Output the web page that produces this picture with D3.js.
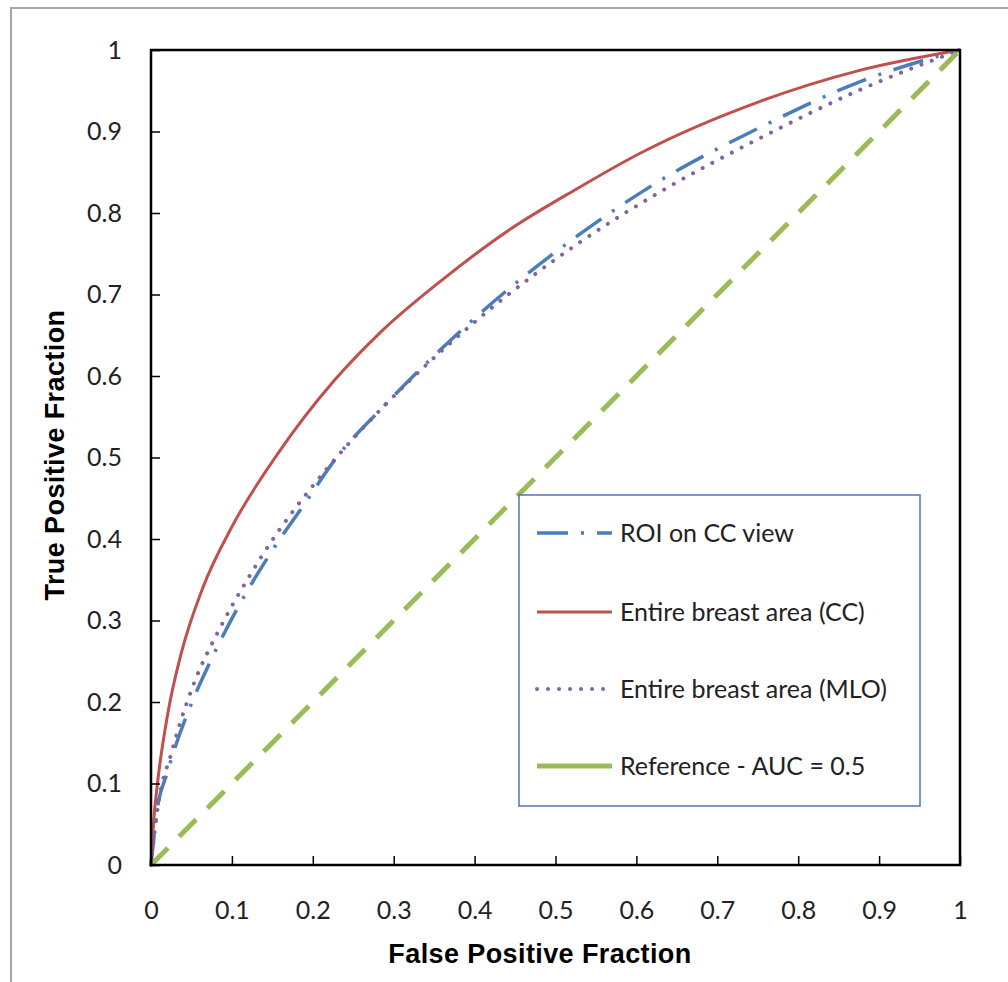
<!DOCTYPE html>
<html>
<head>
<meta charset="utf-8">
<script src="https://cdn.jsdelivr.net/npm/d3@7"></script>
<style>
  body { margin: 0; background: #fff; }
  svg { display: block; }
  .tick text { font-family: Lato, 'Open Sans', sans-serif; font-size: 25px; fill: #222; }
  .axis-title { font-family: 'Liberation Sans', Arial, sans-serif; font-weight: bold; font-size: 27px; letter-spacing: 0.4px; fill: #000; }
  .legend text { font-family: Lato, 'Open Sans', sans-serif; font-size: 25px; fill: #222; }
</style>
</head>
<body>
<svg id="chart"></svg>
<script>
// tick labels for both axes
const axisTicks = [0, 0.1, 0.2, 0.3, 0.4, 0.5, 0.6, 0.7, 0.8, 0.9, 1];

// ROC points: [false positive fraction, true positive fraction]
const roiCC = [[0, 0], [0.009, 0.076], [0.019, 0.11], [0.03, 0.145], [0.05, 0.198], [0.073, 0.249],
  [0.108, 0.317], [0.146, 0.38], [0.189, 0.442], [0.231, 0.502], [0.285, 0.56], [0.407, 0.677],
  [0.53, 0.774], [0.633, 0.842], [0.753, 0.905], [0.876, 0.961], [1, 1]];
const entireCC = [[0, 0], [0.003, 0.05], [0.008, 0.1], [0.021, 0.187], [0.038, 0.262], [0.064, 0.34],
  [0.1, 0.415], [0.157, 0.505], [0.227, 0.595], [0.283, 0.653], [0.36, 0.718], [0.444, 0.78],
  [0.527, 0.83], [0.604, 0.873], [0.753, 0.937], [0.876, 0.975], [1, 1]];
const entireMLO = [[0, 0], [0.006, 0.053], [0.012, 0.092], [0.023, 0.13], [0.034, 0.168], [0.052, 0.22],
  [0.086, 0.292], [0.119, 0.35], [0.155, 0.406], [0.195, 0.459], [0.238, 0.51], [0.284, 0.559],
  [0.407, 0.672], [0.53, 0.764], [0.633, 0.828], [0.753, 0.892], [0.876, 0.951], [1, 1]];
const reference = [[0, 0], [1, 1]];

const seriesNames = ['ROI on CC view', 'Entire breast area (CC)', 'Entire breast area (MLO)', 'Reference - AUC = 0.5'];

const width = 1008,
  height = 982;

const svg = d3.select('#chart').attr('width', width).attr('height', height);

// outer chart border (cut off at right and bottom)
svg.append('path')
  .attr('d', 'M11,' + (height + 5) + 'V8H' + (width + 5))
  .attr('fill', 'none')
  .attr('stroke', '#a6a6a6')
  .attr('stroke-width', 2);

const x = d3.scaleLinear().domain([0, 1]).range([151, 960]);
const y = d3.scaleLinear().domain([0, 1]).range([865, 50]);

const styles = [
  { color: '#4a7ebb', width: 3.5, dash: '31,13,3,13', cap: 'butt' },
  { color: '#c0504d', width: 3, dash: null, cap: 'butt' },
  { color: '#8064a2', width: 4, dash: '0.01,11', cap: 'round' },
  { color: '#9bbb59', width: 5, dash: '24,16', cap: 'butt' }
];

const line = d3.line()
  .x(d => x(d[0]))
  .y(d => y(d[1]))
  .curve(d3.curveMonotoneX);

const series = [roiCC, entireCC, entireMLO, reference];

svg.append('g')
  .attr('class', 'data')
  .selectAll('path')
  .data(series)
  .join('path')
  .attr('d', line)
  .attr('fill', 'none')
  .attr('stroke', (d, i) => styles[i].color)
  .attr('stroke-width', (d, i) => styles[i].width)
  .attr('stroke-dasharray', (d, i) => styles[i].dash)
  .attr('stroke-linecap', (d, i) => styles[i].cap);

// axes with ticks pointing inward
const xAxis = svg.append('g')
  .attr('class', 'axis')
  .attr('transform', 'translate(0,' + y(0) + ')')
  .call(d3.axisBottom(x).tickValues(axisTicks).tickFormat(d => String(d))
    .tickSizeInner(-9).tickSizeOuter(0).tickPadding(36));

const yAxis = svg.append('g')
  .attr('class', 'axis')
  .attr('transform', 'translate(' + x(0) + ',0)')
  .call(d3.axisLeft(y).tickValues(axisTicks).tickFormat(d => String(d))
    .tickSizeInner(-9).tickSizeOuter(0).tickPadding(29));

[xAxis, yAxis].forEach(g => {
  g.select('.domain').remove();
  g.selectAll('.tick line').attr('stroke', '#000').attr('stroke-width', 1.5);
  g.attr('font-family', null).attr('font-size', null);
});

// plot frame
svg.append('rect')
  .attr('x', x(0))
  .attr('y', y(1))
  .attr('width', x(1) - x(0))
  .attr('height', y(0) - y(1))
  .attr('fill', 'none')
  .attr('stroke', '#000')
  .attr('stroke-width', 2.5);

svg.append('text')
  .attr('class', 'axis-title')
  .attr('x', 540)
  .attr('y', 963)
  .attr('text-anchor', 'middle')
  .text('False Positive Fraction');

svg.append('text')
  .attr('class', 'axis-title')
  .attr('transform', 'translate(64,455) rotate(-90)')
  .attr('text-anchor', 'middle')
  .text('True Positive Fraction');

// legend
const legend = svg.append('g').attr('class', 'legend');

legend.append('rect')
  .attr('x', 519)
  .attr('y', 495)
  .attr('width', 401)
  .attr('height', 311)
  .attr('fill', '#fff')
  .attr('stroke', '#4f76b4')
  .attr('stroke-width', 1.5);

const rowY = [533, 612, 689, 766];

const item = legend.selectAll('g.item')
  .data(seriesNames)
  .join('g')
  .attr('class', 'item')
  .attr('transform', (d, i) => 'translate(0,' + rowY[i] + ')');

item.append('line')
  .attr('x1', 537)
  .attr('x2', 612)
  .attr('stroke', (d, i) => styles[i].color)
  .attr('stroke-width', (d, i) => styles[i].width)
  // the reference sample is drawn solid in the legend
  .attr('stroke-dasharray', (d, i) => i === 3 ? null : styles[i].dash)
  .attr('stroke-linecap', (d, i) => styles[i].cap);

item.append('text')
  .attr('x', 620)
  .attr('dy', '0.35em')
  .text(d => d);
</script>
</body>
</html>
